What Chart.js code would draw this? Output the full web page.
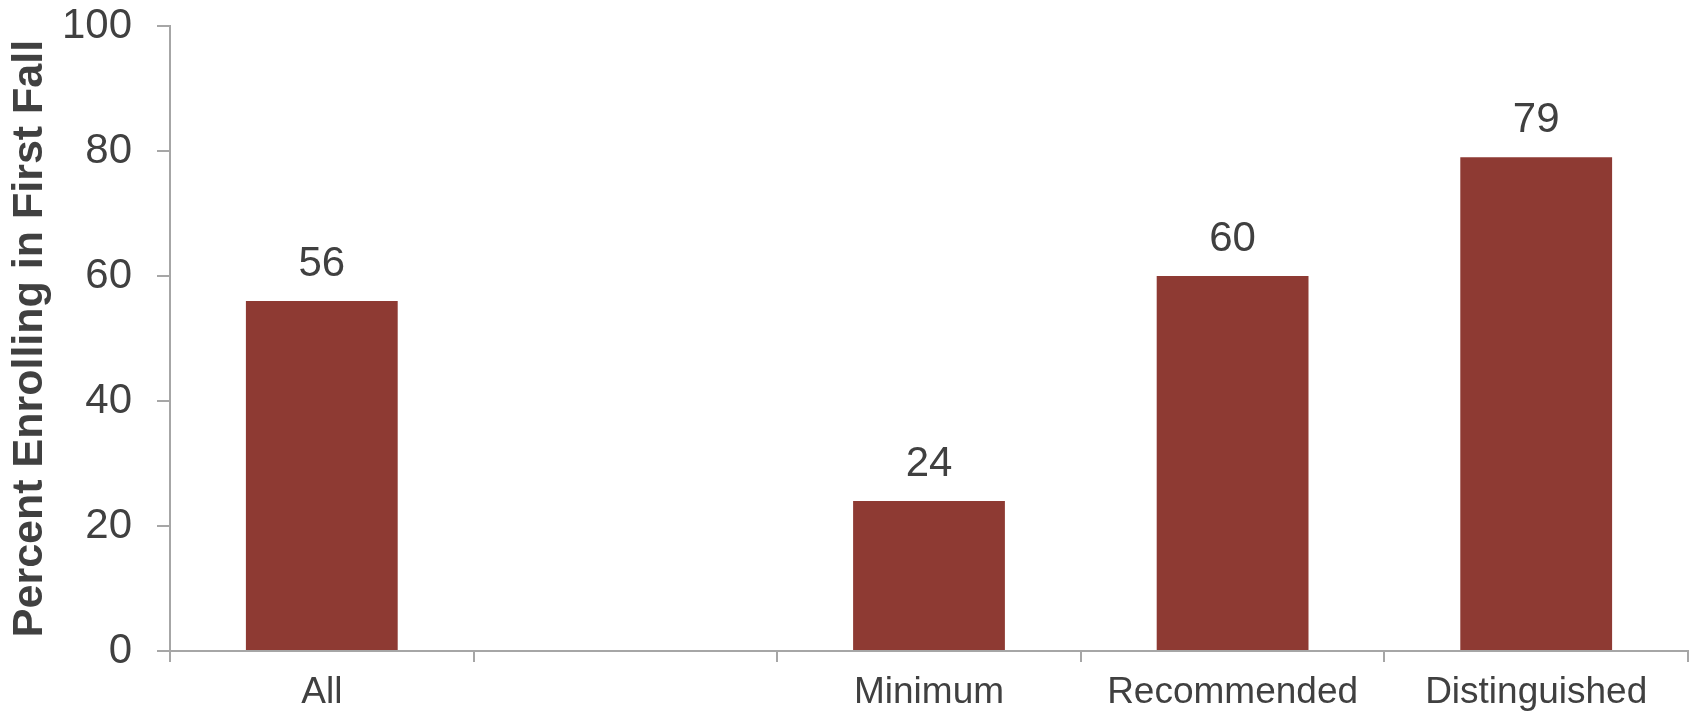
<!DOCTYPE html>
<html>
<head>
<meta charset="utf-8">
<script src="https://cdn.jsdelivr.net/npm/chart.js@4"></script>
<style>
  html, body { margin: 0; padding: 0; background: #fff; }
  #wrap { width: 1698px; height: 716px; }
</style>
</head>
<body>
<div id="wrap"><canvas id="chart"></canvas></div>
<script>
// Categories (the empty one leaves a gap after "All")
const categories = ['All', '', 'Minimum', 'Recommended', 'Distinguished'];
const enrolling = [56, null, 24, 60, 79];
const yTicks = [0, 20, 40, 60, 80, 100];

const textColor = '#404040';
const axisColor = '#a6a6a6';
const fontFamily = '"Liberation Sans", Arial, sans-serif';

// Draws the value above each bar
const barValues = {
    id: 'barValues',
    afterDatasetsDraw(chart) {
        const { ctx } = chart;
        const meta = chart.getDatasetMeta(0);
        ctx.save();
        ctx.font = '42px ' + fontFamily;
        ctx.fillStyle = textColor;
        ctx.textAlign = 'center';
        ctx.textBaseline = 'alphabetic';
        meta.data.forEach((bar, i) => {
            const v = enrolling[i];
            if (v === null) return;
            ctx.fillText(String(v), bar.x, bar.y - 25);
        });
        ctx.restore();
    }
};

new Chart(document.getElementById('chart'), {
    type: 'bar',
    data: {
        labels: categories,
        datasets: [{
            data: enrolling,
            backgroundColor: '#8e3a33',
            borderWidth: 0,
            categoryPercentage: 1,
            barPercentage: 0.5
        }]
    },
    options: {
        responsive: true,
        maintainAspectRatio: false,
        animation: false,
        layout: { padding: { top: 26, right: 10, left: 0, bottom: 0 } },
        plugins: {
            legend: { display: false },
            tooltip: { enabled: false }
        },
        scales: {
            x: {
                grid: {
                    offset: true,
                    drawOnChartArea: false,
                    drawTicks: true,
                    tickLength: 11,
                    color: axisColor,
                    lineWidth: 2
                },
                border: { color: axisColor, width: 2 },
                ticks: {
                    color: textColor,
                    padding: 9,
                    font: { family: fontFamily, size: 37 }
                },
                afterFit(scale) { scale.height = 65; }
            },
            y: {
                min: 0,
                max: 100,
                afterBuildTicks(scale) {
                    scale.ticks = yTicks.map(v => ({ value: v }));
                },
                grid: {
                    drawOnChartArea: false,
                    drawTicks: true,
                    tickLength: 13,
                    color: axisColor,
                    lineWidth: 2
                },
                border: { color: axisColor, width: 2 },
                ticks: {
                    color: textColor,
                    padding: 25,
                    font: { family: fontFamily, size: 42 }
                },
                title: {
                    display: true,
                    text: 'Percent Enrolling in First Fall',
                    color: textColor,
                    font: { family: fontFamily, size: 43, weight: 'bold', lineHeight: 1 },
                    padding: { top: 9, bottom: 0 }
                },
                afterFit(scale) {
                    scale.width = 170;
                    scale.paddingTop = 0;
                    scale.paddingBottom = 0;
                }
            }
        }
    },
    plugins: [barValues]
});
</script>
</body>
</html>
